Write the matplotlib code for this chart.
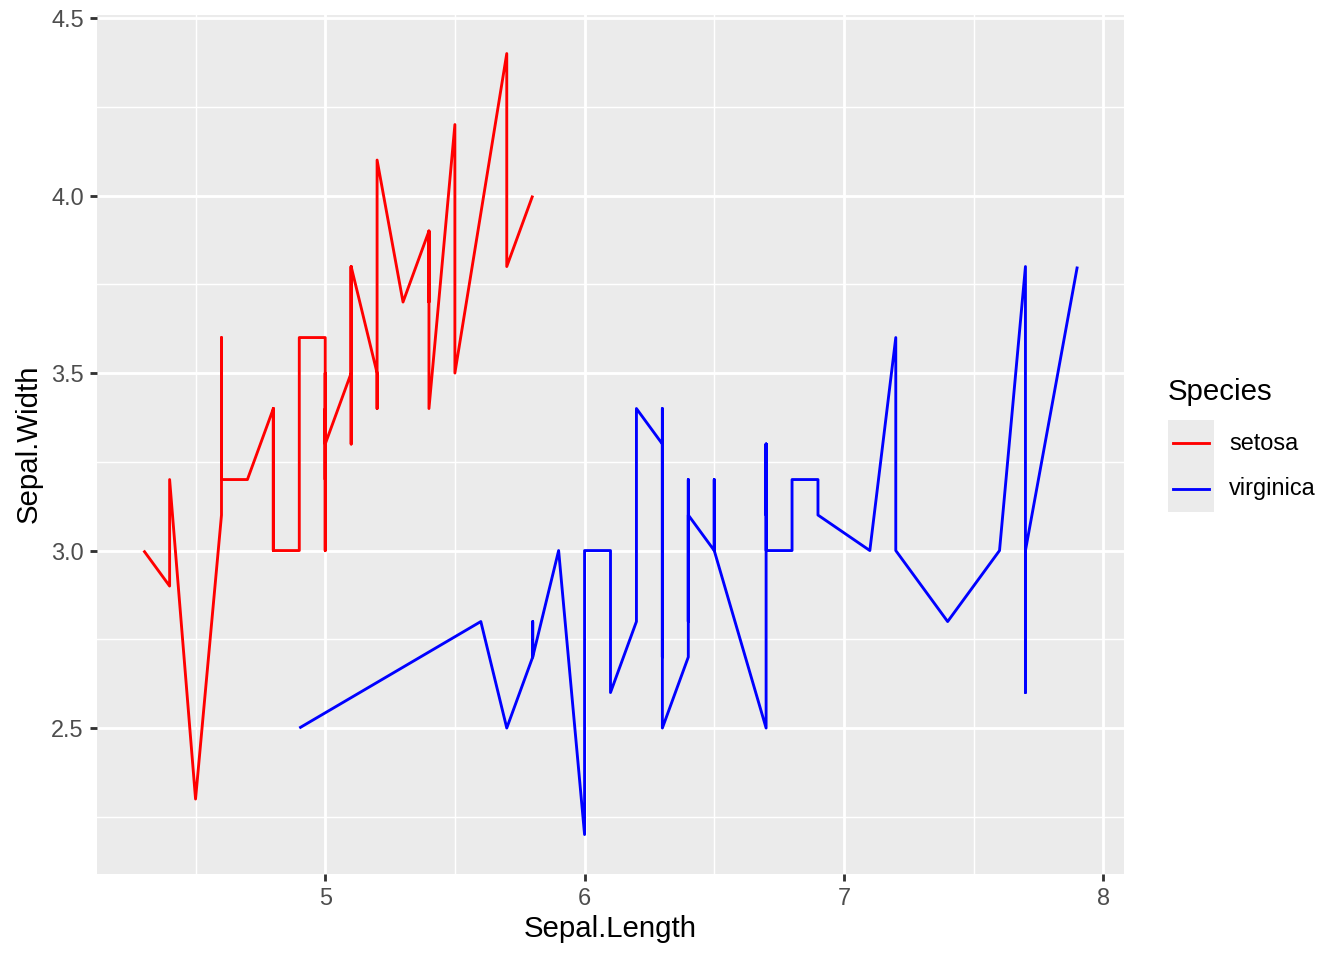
import numpy as np
import matplotlib
matplotlib.use("Agg")
import matplotlib.pyplot as plt
from matplotlib.lines import Line2D
from matplotlib.patches import Rectangle

plt.rcParams['font.family'] = ['Liberation Sans', 'DejaVu Sans']

setosa_length = [5.1, 4.9, 4.7, 4.6, 5.0, 5.4, 4.6, 5.0, 4.4, 4.9, 5.4, 4.8, 4.8, 4.3, 5.8, 5.7, 5.4, 5.1, 5.7, 5.1,
                 5.4, 5.1, 4.6, 5.1, 4.8, 5.0, 5.0, 5.2, 5.2, 4.7, 4.8, 5.4, 5.2, 5.5, 4.9, 5.0, 5.5, 4.9, 4.4, 5.1,
                 5.0, 4.5, 4.4, 5.0, 5.1, 4.8, 5.1, 4.6, 5.3, 5.0]
setosa_width = [3.5, 3.0, 3.2, 3.1, 3.6, 3.9, 3.4, 3.4, 2.9, 3.1, 3.7, 3.4, 3.0, 3.0, 4.0, 4.4, 3.9, 3.5, 3.8, 3.8,
                3.4, 3.7, 3.6, 3.3, 3.4, 3.0, 3.4, 3.5, 3.4, 3.2, 3.1, 3.4, 4.1, 4.2, 3.1, 3.2, 3.5, 3.6, 3.0, 3.4,
                3.5, 2.3, 3.2, 3.5, 3.8, 3.0, 3.8, 3.2, 3.7, 3.3]
virginica_length = [6.3, 5.8, 7.1, 6.3, 6.5, 7.6, 4.9, 7.3, 6.7, 7.2, 6.5, 6.4, 6.8, 5.7, 5.8, 6.4, 6.5, 7.7, 7.7, 6.0,
                    6.9, 5.6, 7.7, 6.3, 6.7, 7.2, 6.2, 6.1, 6.4, 7.2, 7.4, 7.9, 6.4, 6.3, 6.1, 7.7, 6.3, 6.4, 6.0, 6.9,
                    6.7, 6.9, 5.8, 6.8, 6.7, 6.7, 6.3, 6.5, 6.2, 5.9]
virginica_width = [3.3, 2.7, 3.0, 2.9, 3.0, 3.0, 2.5, 2.9, 2.5, 3.6, 3.2, 2.7, 3.0, 2.5, 2.8, 3.2, 3.0, 3.8, 2.6, 2.2,
                   3.2, 2.8, 2.8, 2.7, 3.3, 3.2, 2.8, 3.0, 2.8, 3.0, 2.8, 3.8, 2.8, 2.8, 2.6, 3.0, 3.4, 3.1, 3.0, 3.1,
                   3.1, 3.1, 2.7, 3.2, 3.3, 3.0, 2.5, 3.0, 3.4, 3.0]
species = ['setosa', 'virginica']
colors = ['#FF0000', '#0000FF']
x_ticks = [5, 6, 7, 8]
y_ticks = [2.5, 3.0, 3.5, 4.0, 4.5]
y_tick_labels = ['2.5', '3.0', '3.5', '4.0', '4.5']

W, H = 1344, 960
fig = plt.figure(figsize=(7, 5), dpi=192)
ax = fig.add_axes([97 / W, 1 - 873.6 / H, (1124 - 97) / W, (873.6 - 14.5) / H])
ax.set_facecolor('#EBEBEB')

all_x = setosa_length + virginica_length
all_y = setosa_width + virginica_width
xr = max(all_x) - min(all_x)
yr = max(all_y) - min(all_y)
ax.set_xlim(min(all_x) - 0.05 * xr, max(all_x) + 0.05 * xr)
ax.set_ylim(min(all_y) - 0.05 * yr, max(all_y) + 0.05 * yr)

ax.set_xticks(x_ticks)
ax.set_xticklabels([str(v) for v in x_ticks])
ax.set_yticks(y_ticks)
ax.set_yticklabels(y_tick_labels)
ax.set_xticks([4.5, 5.5, 6.5, 7.5], minor=True)
ax.set_yticks([2.25, 2.75, 3.25, 3.75, 4.25], minor=True)
ax.grid(which='major', color='white', linewidth=1.07)
ax.grid(which='minor', color='white', linewidth=0.53)
ax.set_axisbelow(True)
for s in ax.spines.values():
    s.set_visible(False)
ax.tick_params(which='major', length=2.75, width=1.07, color='#333333', labelsize=8.8,
               labelcolor='#4D4D4D', pad=2.2)
ax.tick_params(which='minor', length=0)

for xs, ys, c in [(setosa_length, setosa_width, colors[0]), (virginica_length, virginica_width, colors[1])]:
    xa = np.array(xs)
    ya = np.array(ys)
    order = np.argsort(xa, kind='stable')
    ax.plot(xa[order], ya[order], color=c, linewidth=1.07, solid_joinstyle='round', solid_capstyle='butt')

ax.set_xlabel('Sepal.Length', fontsize=11, labelpad=2)
ax.set_ylabel('Sepal.Width', fontsize=11, labelpad=3)

# legend
fig.text(1168 / W, 1 - 392 / H, 'Species', fontsize=11, va='center', ha='left')
key_x0, key_w = 1168, 46
for i, (sp, c) in enumerate(zip(species, colors)):
    y0 = 420 + i * 46
    fig.patches.append(Rectangle((key_x0 / W, 1 - (y0 + 46) / H), key_w / W, 46 / H,
                                 transform=fig.transFigure, facecolor='#EBEBEB', edgecolor='none'))
    yc = 1 - (y0 + 23) / H
    fig.lines.append(Line2D([(key_x0 + 4.6) / W, (key_x0 + key_w - 4.6) / W], [yc, yc],
                            transform=fig.transFigure, color=c, linewidth=1.07))
    fig.text(1229 / W, yc, sp, fontsize=8.8, va='center', ha='left')

fig.savefig('out.png', dpi=192)
